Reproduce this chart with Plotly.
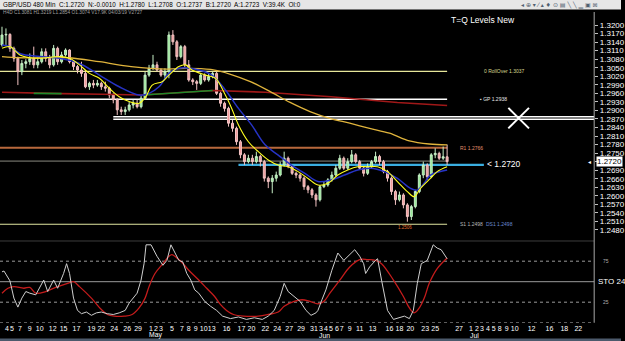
import plotly.graph_objects as go

# ---------------- DATA ----------------
# 480-minute GBP/USD candles (bar index 0..112)
first_open = 1.3130
closes = [
    1.3165, 1.3167, 1.3118, 1.3083, 1.3036, 1.3065, 1.3071, 1.3083, 1.3060, 1.3071,
    1.3106, 1.3083, 1.3060, 1.3118, 1.3071, 1.3095, 1.3112, 1.3071, 1.3054, 1.3042,
    1.3030, 1.2983, 1.2995, 1.2989, 1.2995, 1.2983, 1.2978, 1.2954, 1.2937, 1.2902,
    1.2896, 1.2902, 1.2919, 1.2925, 1.2913, 1.2943, 1.3024, 1.3048, 1.3060, 1.3042,
    1.3024, 1.3036, 1.3165, 1.3141, 1.3089, 1.3124, 1.3060, 1.3007, 1.3001, 1.2995,
    1.3024, 1.3007, 1.3019, 1.3030, 1.2960, 1.2925, 1.2907, 1.2855, 1.2837, 1.2790,
    1.2744, 1.2720, 1.2732, 1.2720, 1.2738, 1.2720, 1.2662, 1.2650, 1.2662, 1.2673,
    1.2708, 1.2732, 1.2703, 1.2679, 1.2673, 1.2662, 1.2632, 1.2621, 1.2603, 1.2586,
    1.2632, 1.2638, 1.2656, 1.2673, 1.2697, 1.2732, 1.2697, 1.2720, 1.2744, 1.2720,
    1.2697, 1.2679, 1.2703, 1.2720, 1.2738, 1.2720, 1.2685, 1.2662, 1.2615, 1.2586,
    1.2603, 1.2568, 1.2527, 1.2562, 1.2615, 1.2673, 1.2708, 1.2667, 1.2744, 1.2749,
    1.2732, 1.2737, 1.2720]
highs = [
    1.3194, 1.3188, 1.3171, 1.3124, 1.3089, 1.3077, 1.3080, 1.3100, 1.3124, 1.3083,
    1.3118, 1.3118, 1.3095, 1.3130, 1.3124, 1.3106, 1.3118, 1.3115, 1.3077, 1.3060,
    1.3071, 1.3042, 1.3001, 1.3007, 1.3007, 1.3001, 1.3001, 1.2983, 1.2960, 1.2943,
    1.2913, 1.2913, 1.2931, 1.2937, 1.2937, 1.2954, 1.3036, 1.3060, 1.3095, 1.3071,
    1.3048, 1.3048, 1.3177, 1.3182, 1.3147, 1.3130, 1.3130, 1.3077, 1.3013, 1.3007,
    1.3030, 1.3030, 1.3030, 1.3036, 1.3036, 1.2966, 1.2931, 1.2913, 1.2866, 1.2843,
    1.2796, 1.2750, 1.2744, 1.2744, 1.2755, 1.2744, 1.2726, 1.2668, 1.2673, 1.2685,
    1.2720, 1.2755, 1.2738, 1.2708, 1.2685, 1.2679, 1.2668, 1.2638, 1.2627, 1.2609,
    1.2638, 1.2650, 1.2662, 1.2685, 1.2708, 1.2744, 1.2738, 1.2732, 1.2761, 1.2750,
    1.2726, 1.2703, 1.2714, 1.2726, 1.2755, 1.2744, 1.2726, 1.2691, 1.2668, 1.2621,
    1.2615, 1.2609, 1.2574, 1.2568, 1.2621, 1.2679, 1.2720, 1.2714, 1.2750, 1.2767,
    1.2755, 1.2773, 1.2780]
lows = [
    1.3124, 1.3130, 1.3106, 1.3071, 1.2989, 1.3024, 1.3048, 1.3060, 1.3048, 1.3048,
    1.3065, 1.3071, 1.3048, 1.3054, 1.3060, 1.3065, 1.3089, 1.3065, 1.3042, 1.3030,
    1.3018, 1.2978, 1.2972, 1.2978, 1.2983, 1.2972, 1.2966, 1.2943, 1.2925, 1.2884,
    1.2884, 1.2884, 1.2896, 1.2907, 1.2907, 1.2907, 1.2937, 1.3018, 1.3042, 1.3036,
    1.3018, 1.3013, 1.3013, 1.3130, 1.3077, 1.3083, 1.3048, 1.3001, 1.2989, 1.2972,
    1.2989, 1.3001, 1.3001, 1.3013, 1.2954, 1.2913, 1.2896, 1.2843, 1.2825, 1.2779,
    1.2732, 1.2708, 1.2714, 1.2708, 1.2714, 1.2703, 1.2650, 1.2627, 1.2609, 1.2650,
    1.2668, 1.2703, 1.2697, 1.2673, 1.2662, 1.2650, 1.2621, 1.2609, 1.2592, 1.2562,
    1.2580, 1.2627, 1.2632, 1.2650, 1.2668, 1.2691, 1.2691, 1.2691, 1.2714, 1.2714,
    1.2691, 1.2668, 1.2673, 1.2697, 1.2714, 1.2708, 1.2679, 1.2650, 1.2603, 1.2568,
    1.2580, 1.2556, 1.2509, 1.2515, 1.2556, 1.2609, 1.2662, 1.2656, 1.2662, 1.2732,
    1.2726, 1.2726, 1.2708]
opens = [first_open] + closes[:-1]          # each bar opens at the previous close
bars = list(range(len(closes)))

# moving averages (bar index, price)
ma_fast_x = [0, 2, 4.5, 7, 9.5, 14.5, 17, 19.5, 22, 24.5, 27, 29.5, 32, 34.5, 36.2, 37.8, 40.3, 42,
             44.5, 46.2, 47.8, 51.2, 53.7, 56.2, 57.8, 59.5, 62, 64.5, 67, 69.5, 72, 74.5, 77,
             79.5, 82, 84.5, 87, 89.5, 92, 94.5, 97, 99.5, 102, 103.7, 105.3, 107.8, 109.5, 112]
ma_fast_y = [1.3118, 1.3124, 1.3095, 1.3085, 1.3083, 1.3089, 1.3083, 1.3060, 1.3030, 1.3013,
             1.2978, 1.2948, 1.2931, 1.2925, 1.2948, 1.2989, 1.3001, 1.3024, 1.3054, 1.3060,
             1.3042, 1.3024, 1.3013, 1.2954, 1.2907, 1.2849, 1.2790, 1.2755, 1.2726, 1.2708,
             1.2702, 1.2685, 1.2661, 1.2638, 1.2644, 1.2673, 1.2691, 1.2702, 1.2702, 1.2702,
             1.2685, 1.2650, 1.2615, 1.2597, 1.2626, 1.2661, 1.2685, 1.2702]
ma_mid_x = [0, 2, 4.5, 9.5, 14.5, 19.5, 24.5, 29.5, 34.5, 37, 39.5, 42, 44.5, 49.5, 52.8, 56.2,
            59.5, 62.8, 66.2, 69.5, 72.8, 76.2, 79.5, 82.8, 86.2, 89.5, 92.8, 96.2, 99.5, 102.8,
            104.5, 106.2, 107.8, 112]
ma_mid_y = [1.3130, 1.3124, 1.3100, 1.3089, 1.3083, 1.3065, 1.3024, 1.2983, 1.2954, 1.2960,
            1.2983, 1.3030, 1.3048, 1.3042, 1.3024, 1.2972, 1.2907, 1.2849, 1.2779, 1.2743,
            1.2708, 1.2679, 1.2650, 1.2656, 1.2673, 1.2691, 1.2697, 1.2685, 1.2661, 1.2626,
            1.2620, 1.2644, 1.2673, 1.2691]
ma_slow_x = [0, 4.5, 9.5, 16.5, 24.5, 32.5, 41.5, 46.5, 52.5, 57.5, 62.5, 67.5, 72.5, 77.5,
             82.5, 87.5, 92.5, 97.5, 102.5, 107.5, 112]
ma_slow_y = [1.3089, 1.3085, 1.3085, 1.3085, 1.3071, 1.3054, 1.3045, 1.3048, 1.3044, 1.3027,
             1.3001, 1.2966, 1.2928, 1.2896, 1.2872, 1.2855, 1.2837, 1.2820, 1.2793, 1.2782, 1.2779]
ma_long_x = [0, 8, 15, 25, 35.5, 44, 53, 66.2, 82.8, 99.5, 112]
ma_long_y = [1.2964, 1.2960, 1.2959, 1.2957, 1.2954, 1.2962, 1.2970, 1.2964, 1.2948, 1.2928, 1.2917]
ma_long_green = [(8, 15), (35.5, 53)]       # bar spans where the long MA is drawn green

# stochastic (24) %K and %D
sto_k_x = [0, 0.5, 2, 3, 4, 5, 6, 7, 8.5, 10.5, 11.5, 13, 14, 14.5, 15.5, 16.25, 17, 18, 19, 20,
           21.25, 22.5, 23.75, 25, 26.5, 28, 29.5, 31, 32, 34, 35, 35.75, 36.25, 37.5, 39, 40.5,
           41.5, 42.5, 43.5, 44.5, 45.5, 46.5, 47.5, 48.5, 49.5, 51, 52.5, 54, 55.5, 57.5, 59.5,
           61.5, 63.5, 65.5, 67, 68.5, 70, 71, 72, 73.5, 75, 76.5, 77.75, 79, 79.5, 80.5, 81.5,
           83, 84.5, 86, 87.5, 88.75, 90, 91, 91.5, 92.5, 94, 94.5, 95.5, 97, 98.5, 100, 101.25,
           102.5, 103.5, 104.5, 105.5, 107, 108.5, 109.5, 110.5, 112]
sto_k_y = [62, 63, 51, 30, 19, 30, 38, 36, 34, 52, 38, 52, 42, 48, 60, 72, 60, 30, 15, 11,
           13, 9, 12, 13, 11, 10, 12, 15, 24, 36, 52, 72, 95, 95, 81, 70,
           76, 95, 85, 76, 74, 60, 52, 40, 36, 26, 20, 15, 8, 5, 7,
           4, 6, 4, 8, 15, 32, 48, 38, 32, 26, 15, 9, 12, 15, 28, 40,
           64, 85, 76, 83, 89, 81, 72, 60, 68, 76, 78, 52, 15, 4, 6, 8,
           5, 15, 48, 72, 76, 95, 91, 89, 78]
sto_d_x = [0, 1.5, 3, 5.5, 7, 8.5, 11, 13.5, 16.5, 18, 19.5, 22.5, 25, 26.5, 28.25, 30.75, 32.75,
           34.5, 36, 37, 38.5, 40.5, 42, 42.75, 44, 45, 47, 49.5, 51.5, 53.5, 55, 56.5, 58.25,
           60.75, 64.5, 67, 69.5, 71, 73.5, 75.5, 77.5, 79.5, 81, 82.5, 85, 87.5, 90, 92, 94,
           95.5, 98.5, 101, 102.5, 103.75, 105, 106.25, 107.5, 109.5, 112]
sto_d_y = [36, 42, 44, 42, 43, 36, 38, 43, 48, 50, 44, 30, 16, 10, 8, 8, 10,
           18, 30, 44, 60, 72, 81, 83, 79, 75, 64, 52, 42, 32, 22, 15, 10,
           8, 8, 10, 13, 20, 26, 28, 26, 23, 26, 36, 52, 68, 77, 77, 76,
           72, 52, 32, 18, 12, 18, 30, 48, 66, 79]
sto_levels = [100, 75, 50, 25, 0]

# horizontal levels
level_prices = [1.3037, 1.2939, 1.2878, 1.2869, 1.2769, 1.2722, 1.2709, 1.2500]
level_labels = [("0 RollOver 1.3037", 1.3037), ("▪ GP 1.2938", 1.2939), ("R1 1.2766", 1.2769),
                ("< 1.2720", 1.2711), ("S1 1.2498", 1.2500), ("DS1 1.2498", 1.2500)]
last_price = 1.2720
low_label = "1.2506"

# axis labels
price_ticks = [1.2480, 1.2510, 1.2540, 1.2570, 1.2600, 1.2630, 1.2660, 1.2690, 1.2720,
               1.2750, 1.2780, 1.2810, 1.2840, 1.2870, 1.2900, 1.2930, 1.2960, 1.2990,
               1.3020, 1.3050, 1.3080, 1.3110, 1.3140, 1.3170, 1.3200]
day_labels = ["4", "5", "7", "9", "10", "12", "15", "17", "19", "22", "24", "26", "29",
              "1", "2", "3", "5", "7", "8", "9", "10", "13", "16", "17", "20", "22", "24", "27", "29", "31",
              "3", "4", "5", "6", "7", "9", "11", "13", "16", "18", "20", "23", "25", "27",
              "1", "2", "3", "4", "5", "8", "9", "10", "12", "16", "18", "22"]
day_pos = [1.25, 2.5, 4.5, 7, 9.5, 12.75, 15.5, 18.75, 22.5, 25, 28.25, 31.5, 34.25,
           37.5, 38.75, 40, 42.75, 45.25, 47, 48.75, 50.75, 52.75, 56.5, 60.25, 62.75, 66.25, 69.25, 72.25, 75.25, 78.5,
           80.25, 81.5, 82.75, 84.25, 85.5, 87.5, 90, 93.25, 97.5, 100, 102.75, 106.5, 109, 115,
           118, 119.5, 120.75, 122.25, 123.75, 125.25, 127, 129, 133.25, 137.75, 141.5, 145]
month_labels = ["May", "Jun", "Jul"]
month_pos = [38.5, 81.25, 119]

header_text = ("GBP/USD 480 Min  C:1.2720  N:-0.0010  H:1.2780  L:1.2708  O:1.2737  "
               "B:1.2720  A:1.2723  V:39.4K  OI:0")
sub_header = "H4D C1.3081 H1.3219 L1.2854 O1.3074 V17.9K 04/03/19 V2727"
chart_title = "T=Q Levels New"
sto_name = "STO 24"

# ---------------- LAYOUT HELPERS ----------------
W, H = 625, 341
FONT = "Liberation Sans"


def pxx(p):
    return p / W


def pxy(p):
    return 1 - p / H


X_RIGHT = 598
XR = [-0.5, 149]
PRICE_RANGE = [1.24588, 1.32457]

fig = go.Figure()

# long MA (red, with green stretches)
fig.add_trace(go.Scatter(x=ma_long_x, y=ma_long_y, mode="lines", line=dict(color="#a01818", width=1.6),
                         hoverinfo="skip", xaxis="x", yaxis="y"))
for a, b in ma_long_green:
    gx = [x for x in ma_long_x if a <= x <= b]
    gy = [y for x, y in zip(ma_long_x, ma_long_y) if a <= x <= b]
    fig.add_trace(go.Scatter(x=gx, y=gy, mode="lines", line=dict(color="#1f8a2a", width=1.6),
                             hoverinfo="skip", xaxis="x", yaxis="y"))

fig.add_trace(go.Scatter(x=ma_slow_x, y=ma_slow_y, mode="lines", line=dict(color="#e0b43c", width=1.3, shape="spline"),
                         hoverinfo="skip", xaxis="x", yaxis="y"))
fig.add_trace(go.Scatter(x=ma_mid_x, y=ma_mid_y, mode="lines", line=dict(color="#2633c4", width=1.5, shape="spline"),
                         hoverinfo="skip", xaxis="x", yaxis="y"))

fig.add_trace(go.Candlestick(
    x=bars, open=opens, high=highs, low=lows, close=closes,
    increasing=dict(line=dict(color="#c8f0c8", width=1), fillcolor="#8ee88e"),
    decreasing=dict(line=dict(color="#f4c4c4", width=1), fillcolor="#f09a9a"),
    whiskerwidth=0, xaxis="x", yaxis="y", hoverinfo="skip"))

fig.add_trace(go.Scatter(x=ma_fast_x, y=ma_fast_y, mode="lines", line=dict(color="#ffff20", width=1.1, shape="spline"),
                         hoverinfo="skip", xaxis="x", yaxis="y"))

# stochastic
fig.add_trace(go.Scatter(x=sto_d_x, y=sto_d_y, mode="lines", line=dict(color="#c41c1c", width=1.3, shape="spline"),
                         hoverinfo="skip", xaxis="x2", yaxis="y2"))
fig.add_trace(go.Scatter(x=sto_k_x, y=sto_k_y, mode="lines", line=dict(color="#cfcfcf", width=1),
                         hoverinfo="skip", xaxis="x2", yaxis="y2"))

shapes = []
# header bar and bottom strip
shapes.append(dict(type="rect", xref="paper", yref="paper", x0=0, x1=1, y0=pxy(9.5), y1=1,
                   fillcolor="#e6e6e6", line=dict(width=0), layer="below"))
shapes.append(dict(type="rect", xref="paper", yref="paper", x0=0, x1=1, y0=0, y1=pxy(338.5),
                   fillcolor="#4c5a6c", line=dict(width=0), layer="below"))

# level lines: (price index, start bar, end bar, colour, width)
level_style = [
    (0, -0.5, 112, "#e6e69a", 1.2),
    (1, -0.5, 112, "#ffffff", 1.5),
    (2, 28, 149, "#ffffff", 1.5),
    (3, 28, 149, "#ffffff", 1.5),
    (4, -0.5, 112, "#b8683c", 2),
    (5, -0.5, 112, "#8a8a80", 1),
    (6, 59.5, 121.25, "#3aaee0", 2.2),
    (7, -0.5, 112, "#e0e6a0", 1.2),
]
for idx, x0, x1, col, wdt in level_style:
    p = level_prices[idx]
    shapes.append(dict(type="line", xref="x", yref="y", x0=x0, x1=x1, y0=p, y1=p,
                       line=dict(color=col, width=wdt), layer="below"))

# drawn X marker near the double line
cx, cy, hx, hy = 130, 1.2873, 2.6, 0.0036
shapes.append(dict(type="line", xref="x", yref="y", x0=cx - hx, x1=cx + hx, y0=cy + hy, y1=cy - hy,
                   line=dict(color="white", width=2)))
shapes.append(dict(type="line", xref="x", yref="y", x0=cx - hx, x1=cx + hx, y0=cy - hy, y1=cy + hy,
                   line=dict(color="white", width=2)))

# stochastic level lines
for lv in sto_levels:
    dash = "solid" if lv in (100, 50) else "dot"
    shapes.append(dict(type="line", xref="paper", yref="y2", x0=0, x1=pxx(X_RIGHT), y0=lv, y1=lv,
                       line=dict(color="#9a9a9a", width=1, dash=dash), layer="below"))
# right vertical axis line
shapes.append(dict(type="line", xref="paper", yref="paper", x0=pxx(X_RIGHT), x1=pxx(X_RIGHT),
                   y0=pxy(322.7), y1=pxy(12), line=dict(color="#a8a8a8", width=1)))

ann = []
ann.append(dict(text=header_text, xref="paper", yref="paper", x=pxx(1), y=pxy(4.8), xanchor="left",
                yanchor="middle", showarrow=False, font=dict(family=FONT, size=6.3, color="#000000")))
ann.append(dict(text="◂ ⊕ ▾ ⁄ ▴ ♦ ⊙ ▤ ╲ ╲ ▁ ▣ ⊠", xref="paper", yref="paper", x=pxx(522), y=pxy(4.8),
                xanchor="left", yanchor="middle", showarrow=False, font=dict(family="DejaVu Sans", size=6, color="#506070")))
ann.append(dict(text=sub_header, xref="paper", yref="paper", x=pxx(1), y=pxy(12.5), xanchor="left",
                yanchor="middle", showarrow=False, font=dict(family=FONT, size=4.8, color="#a0a0a0")))
ann.append(dict(text=chart_title, xref="paper", yref="paper", x=pxx(452), y=pxy(20), xanchor="left",
                yanchor="middle", showarrow=False, font=dict(family=FONT, size=8.5, color="#ffffff")))

label_style = [(120.75, "#d8d890", 5), (119.75, "#e8e8e8", 5), (114.75, "#e0906c", 5),
               (121.6, "#ffffff", 8.5), (114.75, "#b8b8b8", 5), (121.25, "#6a8ad0", 5)]
for (txt, p), (bx, col, fs) in zip(level_labels, label_style):
    ann.append(dict(text=txt, xref="x", yref="y", x=bx, y=p, xanchor="left", yanchor="middle",
                    showarrow=False, font=dict(family=FONT, size=fs, color=col)))
ann.append(dict(text=low_label, xref="x", yref="y", x=101.5, y=1.2490, xanchor="center", yanchor="middle",
                showarrow=False, font=dict(family=FONT, size=4.5, color="#e07030")))

# current price box on the axis (replaces the plain tick label at that level)
ann.append(dict(text=f"{last_price:.4f}", xref="paper", yref="y", x=pxx(X_RIGHT + 2), y=last_price, xanchor="left",
                yanchor="middle", showarrow=False, bgcolor="#ffffff", borderpad=0,
                font=dict(family=FONT, size=8, color="#000000")))
ann.append(dict(text="◂", xref="paper", yref="y", x=pxx(X_RIGHT - 1), y=last_price, xanchor="right",
                yanchor="middle", showarrow=False, font=dict(family="DejaVu Sans", size=6, color="#ffffff")))

# stochastic labels
ann.append(dict(text="75", xref="paper", yref="y2", x=pxx(605), y=75, xanchor="left", yanchor="middle",
                showarrow=False, font=dict(family=FONT, size=5, color="#b0b0b0")))
ann.append(dict(text="25", xref="paper", yref="y2", x=pxx(605), y=25, xanchor="left", yanchor="middle",
                showarrow=False, font=dict(family=FONT, size=5, color="#b0b0b0")))
ann.append(dict(text=sto_name, xref="paper", yref="y2", x=pxx(599.5), y=50, xanchor="left", yanchor="middle",
                showarrow=False, font=dict(family=FONT, size=8, color="#ffffff")))

# month labels
for m, mp in zip(month_labels, month_pos):
    ann.append(dict(text=m, xref="x2", yref="paper", x=mp, y=pxy(335.2), xanchor="center", yanchor="middle",
                    showarrow=False, font=dict(family=FONT, size=6.8, color="#ffffff")))

tick_text = ["" if abs(v - last_price) < 1e-9 else f"{v:.4f}" for v in price_ticks]

fig.update_layout(
    width=W, height=H, margin=dict(l=0, r=0, t=0, b=0),
    paper_bgcolor="#000000", plot_bgcolor="#000000", showlegend=False,
    xaxis=dict(domain=[0, pxx(X_RIGHT)], range=XR, anchor="y", showticklabels=False, showgrid=False,
               zeroline=False, showline=False, rangeslider=dict(visible=False), fixedrange=True),
    xaxis2=dict(domain=[0, pxx(X_RIGHT)], range=XR, anchor="y2", tickvals=day_pos, ticktext=day_labels,
                tickfont=dict(family=FONT, size=7, color="#ffffff"), ticks="", showgrid=False,
                zeroline=False, showline=False, tickangle=0),
    yaxis=dict(domain=[pxy(236), pxy(12)], range=PRICE_RANGE, anchor="x", side="right",
               tickvals=price_ticks, ticktext=tick_text,
               tickfont=dict(family=FONT, size=8, color="#ffffff"), ticks="outside", ticklen=3,
               tickcolor="#c0c0c0", showline=False, showgrid=False, zeroline=False),
    yaxis2=dict(domain=[pxy(322.7), pxy(240.7)], range=[0, 100], anchor="x2", side="right",
                showticklabels=False, showgrid=False, zeroline=False, showline=False),
    shapes=shapes, annotations=ann,
)

fig.write_html("out.html")
